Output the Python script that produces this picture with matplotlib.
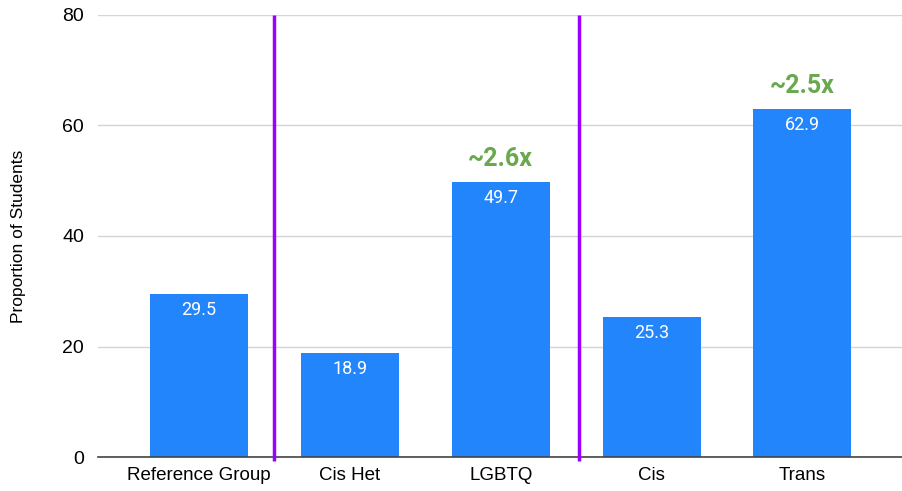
#!/usr/bin/env python
# -*- coding: utf-8 -*-
"""Bar chart of the proportion of students per group, with group dividers."""

import matplotlib.pyplot as plt
import numpy as np

# Data
categories = ['Reference Group', 'Cis Het', 'LGBTQ', 'Cis', 'Trans']
values = [29.5, 18.9, 49.7, 25.3, 62.9]
ratio_labels = {2: '~2.6x', 4: '~2.5x'}
dividers = [0.5, 2.52]
yticks = [0, 20, 40, 60, 80]

# Style
_BAR_CLR = '#2385fb'
_DIV_CLR = '#9b00ff'
_RATIO_CLR = '#6aa84f'
_GRID_CLR = '#d4d4d4'

plt.rcParams['font.family'] = ['Liberation Sans', 'DejaVu Sans']

fig = plt.figure(figsize=(9.02, 4.91), dpi=100)
ax = fig.add_axes([0.1086, 0.0692, 0.8914, 0.9003])

x = np.arange(len(categories))
ax.bar(x, values, width=0.65, color=_BAR_CLR, zorder=3)

# Value labels inside the bar tops
for xi, v in zip(x, values):
    ax.annotate(f'{v:.1f}', (xi, v), xytext=(0, -5), textcoords='offset points',
                ha='center', va='top', color='white', fontsize=13,
                family='Roboto', zorder=4)

# Ratio labels above selected bars
for idx, txt in ratio_labels.items():
    ax.annotate(txt, (x[idx], values[idx]), xytext=(0, 8), textcoords='offset points',
                ha='center', va='bottom', color=_RATIO_CLR, fontsize=18,
                family='Roboto', fontweight='bold', zorder=4)

# Group dividers
for d in dividers:
    ax.plot([d, d], [-0.7, 80], color=_DIV_CLR, linewidth=2.5, zorder=5,
            clip_on=False, solid_capstyle='butt')

ax.set_xlim(-0.67, 4.66)
ax.set_ylim(0, 80)
ax.set_yticks(yticks)
ax.set_xticks(x)
ax.set_xticklabels(categories, fontsize=13.5)
ax.tick_params(axis='y', labelsize=14, length=0, pad=10)
ax.tick_params(axis='x', length=0, pad=7)

ax.grid(axis='y', color=_GRID_CLR, linewidth=1, zorder=0)
for s in ['top', 'right', 'left']:
    ax.spines[s].set_visible(False)
ax.spines['bottom'].set_color('#444444')
ax.spines['bottom'].set_linewidth(1.2)
ax.spines['bottom'].set_zorder(4)

ax.set_ylabel('Proportion of Students', fontsize=12.5, labelpad=26)

fig.savefig('out.png', dpi=100)
